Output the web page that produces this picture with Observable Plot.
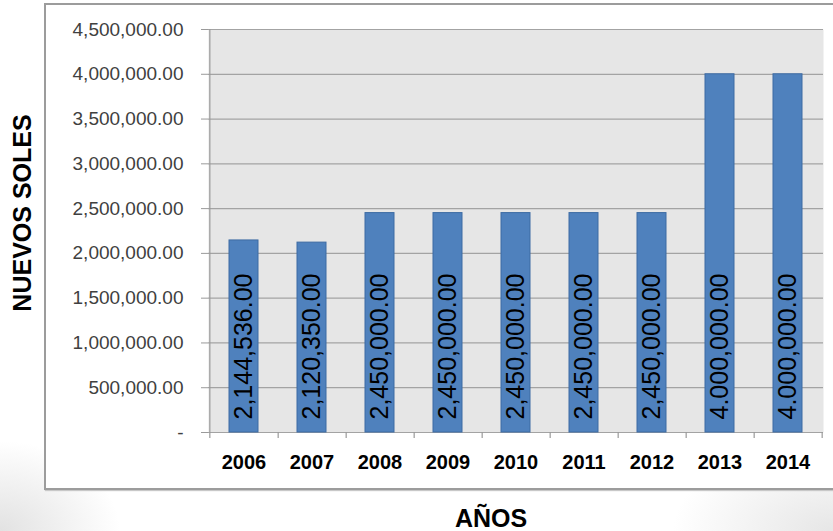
<!DOCTYPE html>
<html>
<head>
<meta charset="utf-8">
<script src="https://cdn.jsdelivr.net/npm/d3@7"></script>
<script src="https://cdn.jsdelivr.net/npm/@observablehq/plot@0.6"></script>
<style>
  html, body { margin: 0; padding: 0; }
  body {
    width: 833px; height: 531px; overflow: hidden; position: relative;
    background:
      radial-gradient(ellipse 120px 90px at 0px 531px, #e2e2e2, rgba(255,255,255,0)),
      radial-gradient(ellipse 160px 90px at 833px 531px, #e6e6e6, rgba(255,255,255,0)),
      #ffffff;
  }
  #box {
    position: absolute; left: 44px; top: 3px; width: 800px; height: 483px;
    border: 2px solid #9c9c9c; background: #ffffff;
    box-shadow: 1px 1px 1px #c8c8c8;
  }
  #chart { position: absolute; left: 0; top: 0; }
</style>
</head>
<body>
<div id="box"></div>
<div id="chart"></div>
<script>
const years = ["2006", "2007", "2008", "2009", "2010", "2011", "2012", "2013", "2014"];
const values = [2144536, 2120350, 2450000, 2450000, 2450000, 2450000, 2450000, 4000000, 4000000];
const barLabels = ["2,144,536.00", "2,120,350.00", "2,450,000.00", "2,450,000.00", "2,450,000.00",
                   "2,450,000.00", "2,450,000.00", "4.000,000.00", "4.000,000.00"];
const yTicks = [0, 500000, 1000000, 1500000, 2000000, 2500000, 3000000, 3500000, 4000000, 4500000];
const yTitle = "NUEVOS SOLES";
const xTitle = "AÑOS";

const data = years.map((y, i) => ({year: y, value: values[i], label: barLabels[i]}));

const W = 833, H = 531, mL = 208, mR = 10, mT = 29, mB = 99;
const step = (W - mL - mR) / years.length;
const frameH = H - mT - mB;
const fmt = d3.format(",.2f");

const plot = Plot.plot({
  width: W, height: H,
  marginLeft: mL, marginRight: mR, marginTop: mT, marginBottom: mB,
  style: {fontFamily: "'Liberation Sans', Arial, sans-serif", background: "transparent"},
  x: {domain: years, paddingInner: 0.57, paddingOuter: 0.285, align: 0.5},
  y: {domain: [0, 4500000]},
  marks: [
    Plot.frame({fill: "#e6e6e6", stroke: null}),
    Plot.ruleY(yTicks, {stroke: "#a3a3a3", strokeWidth: 1.2}),
    Plot.ruleX([years[0]], {x: d => d, dx: -step / 2, stroke: "#9a9a9a", strokeWidth: 1.2, insetBottom: -6}),
    Plot.ruleX(years, {x: d => d, dx: step / 2, stroke: "#9a9a9a", strokeWidth: 1.2, insetTop: frameH, insetBottom: -6}),
    Plot.barY(data, {x: "year", y: "value", fill: "#4f81bd", stroke: "#3d6ba3", strokeWidth: 1}),
    Plot.text(data, {x: "year", y: 0, text: "label", rotate: -90, textAnchor: "start", lineAnchor: "middle",
                     dy: -13, fontSize: 25, fill: "#000000"}),
    Plot.axisY({ticks: yTicks, tickFormat: d => d === 0 ? "-" : fmt(d), tickSize: 7, tickPadding: 18,
                fontSize: 19, fill: "#404040", stroke: "#9a9a9a", label: null}),
    Plot.axisX({tickSize: 0, tickPadding: 22, fontSize: 20, fontWeight: "bold", fill: "#000000", label: null}),
    Plot.text([yTitle], {frameAnchor: "left", rotate: -90, dx: -186, dy: -18, fontSize: 25,
                         fontWeight: "bold", fill: "#000000", textAnchor: "middle", lineAnchor: "middle"}),
    Plot.text([xTitle], {frameAnchor: "bottom", dx: -25, dy: 94, fontSize: 25,
                         fontWeight: "bold", fill: "#000000", textAnchor: "middle", lineAnchor: "bottom"})
  ]
});
document.getElementById("chart").appendChild(plot);
</script>
</body>
</html>
